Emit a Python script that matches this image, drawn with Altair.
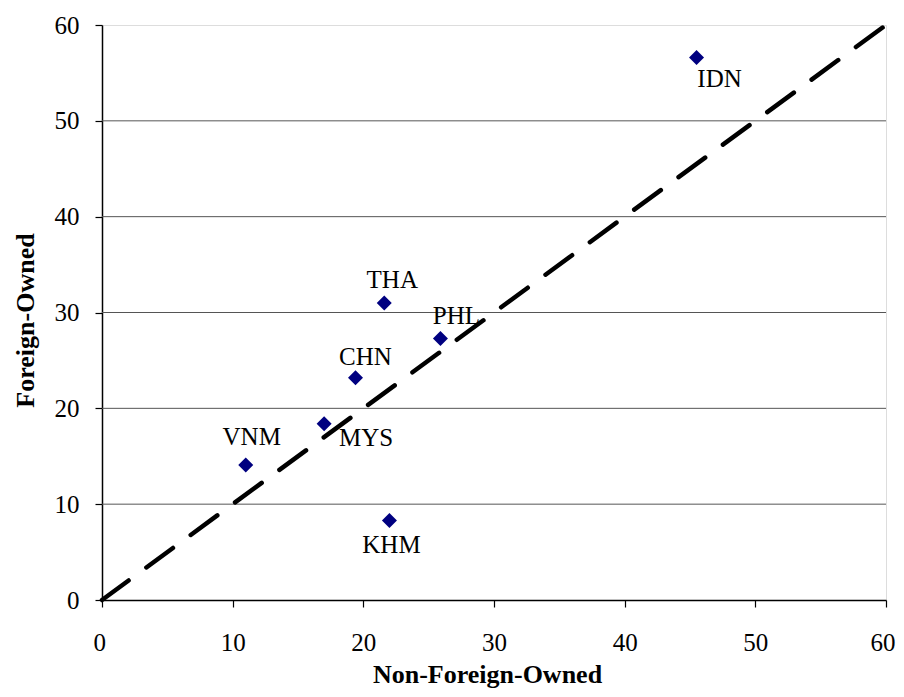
import altair as alt
import pandas as pd

# Data
countries = ["IDN", "THA", "PHL", "CHN", "MYS", "VNM", "KHM"]
non_foreign = [45.5, 21.6, 25.9, 19.4, 17.0, 11.0, 22.0]
foreign = [56.6, 31.0, 27.3, 23.2, 18.4, 14.1, 8.3]

ticks = [0, 10, 20, 30, 40, 50, 60]
grid_vals = [10, 20, 30, 40, 50]
diag = [0, 60]

df = pd.DataFrame({"country": countries, "x": non_foreign, "y": foreign})
grid_df = pd.DataFrame({"g": grid_vals})
diag_df = pd.DataFrame({"x": diag, "y": diag})

FONT = "Liberation Serif"

# label offsets (styling, in pixels)
label_offsets = {
    "IDN": (23, 29),
    "THA": (8, -15),
    "PHL": (16, -14),
    "CHN": (10, -13),
    "MYS": (42, 22),
    "VNM": (6, -20),
    "KHM": (2, 33),
}

xscale = alt.Scale(domain=[0, 60], nice=False, zero=True)
yscale = alt.Scale(domain=[0, 60], nice=False, zero=True)

xaxis = alt.Axis(
    values=ticks, grid=False, tickSize=7, tickColor="#000000", tickWidth=1.2,
    domainColor="#000000", domainWidth=1.5, labelFont=FONT, labelFontSize=25,
    labelColor="#000000", labelPadding=23, labelBaseline="top",
    labelFlush=True, labelFlushOffset=9,
    title="Non-Foreign-Owned", titleFont=FONT, titleFontSize=26,
    titleFontWeight="bold", titleColor="#000000", titleX=385, titleY=82,
    titleAlign="center", titleBaseline="alphabetic",
)
yaxis = alt.Axis(
    values=ticks, grid=False, tickSize=7, tickColor="#000000", tickWidth=1.2,
    domainColor="#000000", domainWidth=1.5, labelFont=FONT, labelFontSize=25,
    labelColor="#000000", labelPadding=16, labelBaseline="middle", labelFlush=False,
    title="Foreign-Owned", titleFont=FONT, titleFontSize=26,
    titleFontWeight="bold", titleColor="#000000", titleX=-69, titleY=295,
    titleAlign="center", titleBaseline="alphabetic", titleAngle=270,
)

grid = alt.Chart(grid_df).mark_rule(color="#555555", strokeWidth=1).encode(
    y=alt.Y("g:Q", scale=yscale, axis=yaxis)
)

base_points = alt.Chart(df).mark_point(
    shape="diamond", filled=True, size=225, color="#000080", opacity=1
).encode(
    x=alt.X("x:Q", scale=xscale, axis=xaxis),
    y=alt.Y("y:Q", scale=yscale, axis=yaxis),
)

labels = []
for name, (dx, dy) in label_offsets.items():
    labels.append(
        alt.Chart(df).transform_filter(alt.datum.country == name).mark_text(
            dx=dx, dy=dy, align="center", baseline="alphabetic",
            font=FONT, fontSize=25, color="#000000",
        ).encode(
            x=alt.X("x:Q", scale=xscale, axis=xaxis),
            y=alt.Y("y:Q", scale=yscale, axis=yaxis),
            text="country:N",
        )
    )

line = alt.Chart(diag_df).mark_line(
    color="#000000", strokeWidth=4.5, strokeDash=[33, 22], strokeCap="round"
).encode(
    x=alt.X("x:Q", scale=xscale, axis=xaxis),
    y=alt.Y("y:Q", scale=yscale, axis=yaxis),
)

chart = alt.layer(grid, base_points, *labels, line).properties(
    width=784, height=575,
    autosize=alt.AutoSizeParams(type="none"),
    padding={"left": 94, "top": 17, "right": 10, "bottom": 95},
).configure_view(
    stroke="#999999", strokeWidth=2
).configure(background="#ffffff")

chart.save("out.html", embed_options={"renderer": "svg", "actions": False})
